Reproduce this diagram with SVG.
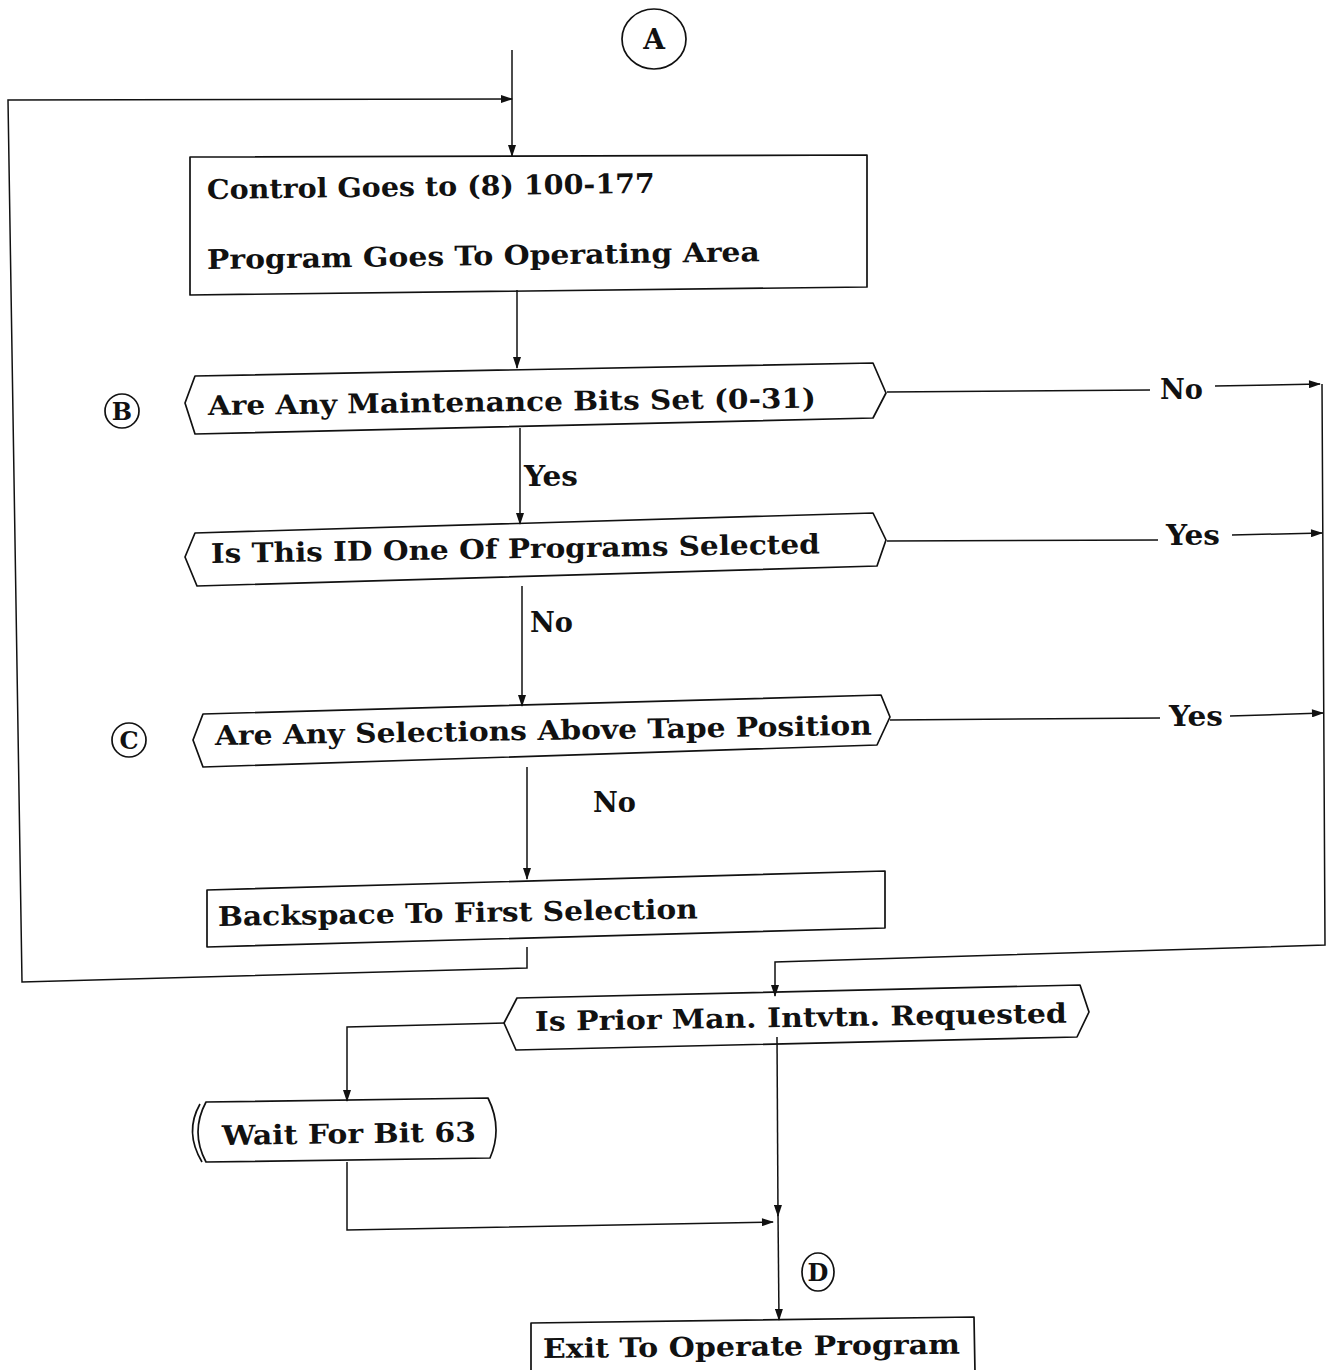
<svg xmlns="http://www.w3.org/2000/svg" width="1329" height="1370" viewBox="0 0 1329 1370">
<style>
  .shape { fill: none; stroke: #111; stroke-width: 1.7; stroke-linejoin: round; }
  .line { fill: none; stroke: #111; stroke-width: 1.5; }
  .t { font-family: "DejaVu Serif", "Liberation Serif", serif; font-weight: bold; font-size: 27px; fill: #111; }
  .lbl { font-family: "DejaVu Serif", "Liberation Serif", serif; font-weight: bold; font-size: 27px; fill: #111; }
  .conn { font-family: "DejaVu Serif", "Liberation Serif", serif; font-weight: bold; fill: #111; text-anchor: middle; }
</style>
<defs>
  <marker id="arr" viewBox="0 0 12 8" refX="11" refY="4" markerWidth="13" markerHeight="8" markerUnits="userSpaceOnUse" orient="auto">
    <path d="M0,0 L12,4 L0,8 Z" fill="#111"/>
  </marker>
</defs>
<rect width="1329" height="1370" fill="#fff"/>

<g id="connectors">
  <line class="line" x1="512" y1="50" x2="512" y2="156" marker-end="url(#arr)"/>
  <polyline class="line" points="527,947 527,968 22,982 8,100 512,99" marker-end="url(#arr)"/>
  <line class="line" x1="517" y1="290" x2="517" y2="368" marker-end="url(#arr)"/>
  <line class="line" x1="520" y1="428" x2="520" y2="524" marker-end="url(#arr)"/>
  <text class="lbl" x="524" y="486" textLength="54" lengthAdjust="spacingAndGlyphs">Yes</text>
  <line class="line" x1="887" y1="392" x2="1150" y2="390"/>
  <text class="lbl" x="1160" y="399" textLength="43" lengthAdjust="spacingAndGlyphs">No</text>
  <line class="line" x1="1215" y1="386" x2="1320" y2="384" marker-end="url(#arr)"/>
  <line class="line" x1="887" y1="541" x2="1158" y2="540"/>
  <text class="lbl" x="1166" y="545" textLength="54" lengthAdjust="spacingAndGlyphs">Yes</text>
  <line class="line" x1="1232" y1="535" x2="1322" y2="533" marker-end="url(#arr)"/>
  <line class="line" x1="522" y1="586" x2="522" y2="706" marker-end="url(#arr)"/>
  <text class="lbl" x="530" y="632" textLength="43" lengthAdjust="spacingAndGlyphs">No</text>
  <line class="line" x1="890" y1="720" x2="1160" y2="718"/>
  <text class="lbl" x="1169" y="726" textLength="54" lengthAdjust="spacingAndGlyphs">Yes</text>
  <line class="line" x1="1230" y1="716" x2="1323" y2="713" marker-end="url(#arr)"/>
  <line class="line" x1="527" y1="767" x2="527" y2="879" marker-end="url(#arr)"/>
  <text class="lbl" x="593" y="812" textLength="43" lengthAdjust="spacingAndGlyphs">No</text>
  <polyline class="line" points="1322,384 1325,945 775,962 775,996" marker-end="url(#arr)"/>
  <polyline class="line" points="505,1023 347,1027 347,1101" marker-end="url(#arr)"/>
  <polyline class="line" points="347,1162 347,1230 773,1222" marker-end="url(#arr)"/>
  <line class="line" x1="777" y1="1037" x2="778" y2="1216" marker-end="url(#arr)"/>
  <line class="line" x1="778" y1="1214" x2="779" y2="1320" marker-end="url(#arr)"/>
</g>

<g id="connector-A">
  <ellipse class="shape" cx="654" cy="39" rx="32" ry="30"/>
  <text class="conn" x="654" y="49" font-size="28">A</text>
</g>

<g id="box-control">
  <polygon class="shape" points="190,157 867,155 867,287 190,295"/>
  <text class="t" x="207" y="199" textLength="448" lengthAdjust="spacingAndGlyphs" transform="rotate(-0.8 207 199)">Control Goes to (8) 100-177</text>
  <text class="t" x="207" y="269" textLength="553" lengthAdjust="spacingAndGlyphs" transform="rotate(-0.8 207 269)">Program Goes To Operating Area</text>
</g>

<g id="connector-B">
  <circle class="shape" cx="122" cy="411" r="17"/>
  <text class="conn" x="122" y="420" font-size="24">B</text>
</g>

<g id="decision-maintenance">
  <polygon class="shape" points="185,403 195,376 873,363 886,393 873,418 195,434"/>
  <text class="t" x="208" y="415" textLength="608" lengthAdjust="spacingAndGlyphs" transform="rotate(-0.7 208 415)">Are Any Maintenance Bits Set  (0-31)</text>
</g>

<g id="decision-programs">
  <polygon class="shape" points="185,557 195,533 873,513 886,540 877,566 197,586"/>
  <text class="t" x="211" y="563" textLength="609" lengthAdjust="spacingAndGlyphs" transform="rotate(-0.9 211 563)">Is This ID One Of Programs Selected</text>
</g>

<g id="connector-C">
  <circle class="shape" cx="129" cy="740" r="17"/>
  <text class="conn" x="129" y="749" font-size="24">C</text>
</g>

<g id="decision-selections">
  <polygon class="shape" points="193,740 203,714 881,695 890,717 877,745 203,767"/>
  <text class="t" x="215" y="745" textLength="657" lengthAdjust="spacingAndGlyphs" transform="rotate(-0.9 215 745)">Are Any Selections Above Tape Position</text>
</g>

<g id="box-backspace">
  <polygon class="shape" points="207,890 885,871 885,928 207,947"/>
  <text class="t" x="218" y="926" textLength="480" lengthAdjust="spacingAndGlyphs" transform="rotate(-0.9 218 926)">Backspace To First Selection</text>
</g>

<g id="decision-prior">
  <polygon class="shape" points="504,1023 517,998 1080,985 1089,1012 1077,1037 516,1050"/>
  <text class="t" x="535" y="1031" textLength="532" lengthAdjust="spacingAndGlyphs" transform="rotate(-0.9 535 1031)">Is Prior Man. Intvtn. Requested</text>
</g>

<g id="wait-bit">
  <path class="shape" d="M206,1102 L488,1098 Q503,1128 490,1158 L206,1162 Q190,1132 206,1102 Z"/>
  <path class="shape" d="M200,1104 Q184,1132 202,1162"/>
  <text class="t" x="222" y="1145" textLength="254" lengthAdjust="spacingAndGlyphs" transform="rotate(-0.8 222 1145)">Wait For Bit 63</text>
</g>

<g id="connector-D">
  <ellipse class="shape" cx="818" cy="1272" rx="16" ry="19"/>
  <text class="conn" x="818" y="1281" font-size="24">D</text>
</g>

<g id="box-exit">
  <polyline class="shape" points="531,1372 531,1323 974,1317 975,1372"/>
  <text class="t" x="543" y="1358" textLength="417" lengthAdjust="spacingAndGlyphs" transform="rotate(-0.6 543 1358)">Exit To Operate Program</text>
</g>
</svg>
